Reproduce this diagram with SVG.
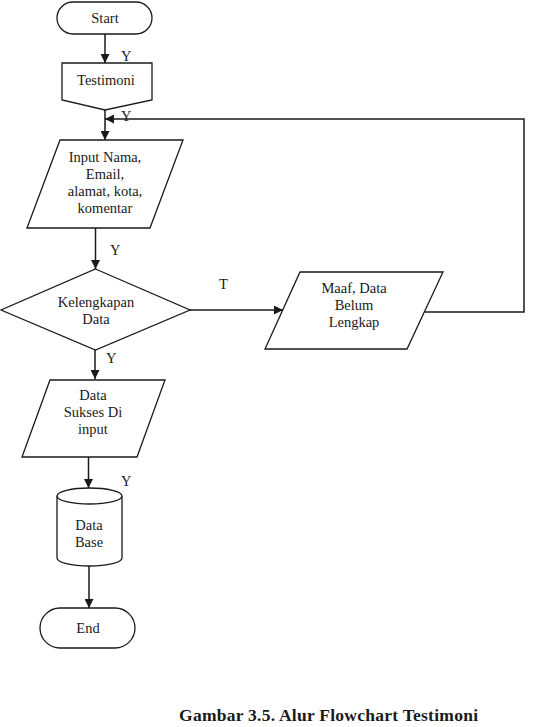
<svg xmlns="http://www.w3.org/2000/svg" width="535" height="727" viewBox="0 0 535 727">
<style>
.s{fill:#fff;stroke:#1a1a1a;stroke-width:1.3}
.c{fill:none;stroke:#1a1a1a;stroke-width:1.5}
text{font-family:"Liberation Serif","Times New Roman",serif;font-size:14.5px;fill:#1a1a1a;text-anchor:middle}
.l{text-anchor:start}
.cap{font-weight:bold;font-size:17.5px;text-anchor:start}
</style>
<defs>
<marker id="a" viewBox="0 0 10 10" refX="10" refY="5" markerWidth="6" markerHeight="6" orient="auto" markerUnits="strokeWidth">
<path d="M0,0L10,5L0,10z" fill="#1a1a1a"/>
</marker>
</defs>
<g id="connectors">
<path class="c" d="M105,34V63" marker-end="url(#a)"/>
<path class="c" d="M105,110V140" marker-end="url(#a)"/>
<path class="c" d="M425,312H524V119H105" marker-end="url(#a)"/>
<path class="c" d="M95.5,228V269" marker-end="url(#a)"/>
<path class="c" d="M190,310H283" marker-end="url(#a)"/>
<path class="c" d="M95,350V379" marker-end="url(#a)"/>
<path class="c" d="M88.5,457V488" marker-end="url(#a)"/>
<path class="c" d="M89,566V608" marker-end="url(#a)"/>
<text class="l" x="121" y="61">Y</text>
<text class="l" x="121" y="121">Y</text>
<text class="l" x="110" y="255">Y</text>
<text class="l" x="219" y="289">T</text>
<text class="l" x="106" y="363">Y</text>
<text class="l" x="121" y="486">Y</text>
</g>
<g id="start">
<rect class="s" x="57" y="2" width="95" height="32" rx="16"/>
<text x="105" y="23">Start</text>
</g>
<g id="testimoni">
<path class="s" d="M62,63H152V100L105,110L62,100Z"/>
<text x="106" y="85">Testimoni</text>
</g>
<g id="input">
<path class="s" d="M60,140H183L150,228H27Z"/>
<text x="105" y="162">Input Nama,</text>
<text x="105" y="179">Email,</text>
<text x="105" y="196">alamat, kota,</text>
<text x="105" y="213">komentar</text>
</g>
<g id="kelengkapan">
<path class="s" d="M95.5,269L190,310L95.5,350L1,310Z"/>
<text x="96" y="307">Kelengkapan</text>
<text x="96" y="324">Data</text>
</g>
<g id="maaf">
<path class="s" d="M300,272H443L407,349H265Z"/>
<text x="354" y="293">Maaf, Data</text>
<text x="354" y="310">Belum</text>
<text x="354" y="327">Lengkap</text>
</g>
<g id="sukses">
<path class="s" d="M50,380H165L137,457H22Z"/>
<text x="93" y="400">Data</text>
<text x="93" y="417">Sukses Di</text>
<text x="93" y="434">input</text>
</g>
<g id="database">
<path class="s" d="M57,496V558A32.5,8 0 0 0 122,558V496"/>
<ellipse class="s" cx="89.5" cy="496" rx="32.5" ry="8"/>
<text x="89" y="530">Data</text>
<text x="89" y="547">Base</text>
</g>
<g id="end">
<rect class="s" x="40" y="608" width="95" height="40" rx="20"/>
<text x="88" y="633">End</text>
</g>
<text class="cap" x="179" y="721" textLength="299">Gambar 3.5. Alur Flowchart Testimoni</text>
</svg>
